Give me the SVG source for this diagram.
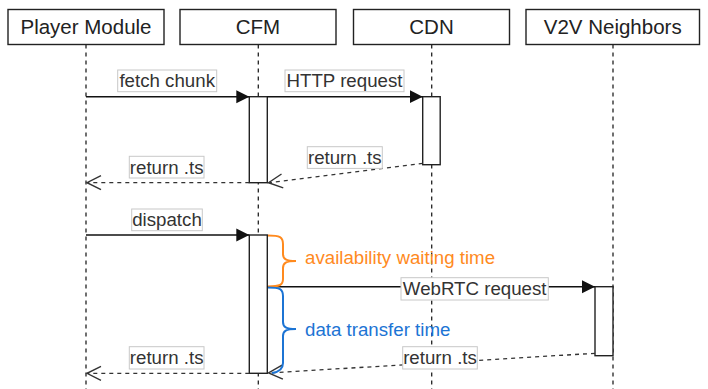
<svg xmlns="http://www.w3.org/2000/svg" width="708" height="389" viewBox="0 0 708 389">
<style>
.hdr{fill:#fff;stroke:#222;stroke-width:1.4}
.hdrt{font-family:"Liberation Sans",Arial,sans-serif;font-size:20.5px;fill:#222;text-anchor:middle}
.life{stroke:#222;stroke-width:1.3;stroke-dasharray:4,4;fill:none}
.act{fill:#fff;stroke:#222;stroke-width:1.4}
.msg{stroke:#111;stroke-width:1.4;fill:none}
.ret{stroke:#333;stroke-width:1.3;stroke-dasharray:4,4;fill:none}
.lblb{fill:#fff;stroke:#c8c8c8;stroke-width:1}
.lbl{font-family:"Liberation Sans",Arial,sans-serif;font-size:18.7px;fill:#333;text-anchor:middle}
.note{font-family:"Liberation Sans",Arial,sans-serif;font-size:18.7px}
</style>
<defs>
<marker id="filled" markerUnits="userSpaceOnUse" markerWidth="14" markerHeight="14" viewBox="0 0 14 14" refX="13" refY="7" orient="auto">
<path d="M0,0.5 L13,7 L0,13.5 Z" fill="#111"/>
</marker>
<marker id="open" markerUnits="userSpaceOnUse" markerWidth="18" markerHeight="18" viewBox="0 0 18 18" refX="16" refY="9" orient="auto">
<path d="M2,2 L16,9 L2,16" fill="none" stroke="#333" stroke-width="1.4"/>
</marker>
</defs>

<g id="player-module">
<rect class="hdr" x="8" y="9.5" width="156" height="35"/>
<text class="hdrt" x="86" y="34">Player Module</text>
<line class="life" x1="86" y1="44.5" x2="86" y2="389"/>
</g>
<g id="cfm">
<rect class="hdr" x="180" y="9.5" width="156" height="35"/>
<text class="hdrt" x="258" y="34">CFM</text>
<line class="life" x1="258.3" y1="44.5" x2="258.3" y2="389"/>
</g>
<g id="cdn">
<rect class="hdr" x="353.5" y="9.5" width="156" height="35"/>
<text class="hdrt" x="431.5" y="34">CDN</text>
<line class="life" x1="431.7" y1="44.5" x2="431.7" y2="389"/>
</g>
<g id="v2v-neighbors">
<rect class="hdr" x="526" y="9.5" width="173.5" height="35"/>
<text class="hdrt" x="612.7" y="34">V2V Neighbors</text>
<line class="life" x1="613" y1="44.5" x2="613" y2="389"/>
</g>

<g id="activations">
<rect class="act" x="249.3" y="96.7" width="18" height="86"/>
<rect class="act" x="422.7" y="96.7" width="17.5" height="68"/>
<rect class="act" x="249.3" y="235" width="18" height="138.3"/>
<rect class="act" x="595" y="286.7" width="18" height="69"/>
</g>

<g id="connectors">
<line class="msg" x1="86" y1="96.7" x2="249.3" y2="96.7" marker-end="url(#filled)"/>
<line class="msg" x1="267.3" y1="96.7" x2="422.7" y2="96.7" marker-end="url(#filled)"/>
<line class="ret" x1="422.7" y1="163.3" x2="268.5" y2="182.7" marker-end="url(#open)"/>
<line class="ret" x1="249.3" y1="182.7" x2="87" y2="182.7" marker-end="url(#open)"/>
<line class="msg" x1="86" y1="235" x2="249.3" y2="235" marker-end="url(#filled)"/>
<line class="msg" x1="267.3" y1="286.7" x2="595" y2="286.7" marker-end="url(#filled)"/>
<line class="ret" x1="595" y1="353.3" x2="268.5" y2="373" marker-end="url(#open)"/>
<line class="ret" x1="249.3" y1="373.3" x2="87" y2="373.3" marker-end="url(#open)"/>
</g>

<g id="labels">
<rect class="lblb" x="117.7" y="70" width="99" height="21.7"/>
<text class="lbl" x="167.2" y="87.3">fetch chunk</text>
<rect class="lblb" x="285" y="70" width="119" height="21.7"/>
<text class="lbl" x="344.5" y="87.3">HTTP request</text>
<rect class="lblb" x="307.3" y="146.7" width="75" height="21.7"/>
<text class="lbl" x="344.8" y="164">return .ts</text>
<rect class="lblb" x="129.3" y="156.3" width="74.7" height="21.7"/>
<text class="lbl" x="166.7" y="173.6">return .ts</text>
<rect class="lblb" x="131.7" y="209" width="70.6" height="21.7"/>
<text class="lbl" x="167" y="226.3">dispatch</text>
<rect class="lblb" x="401" y="277.7" width="147.3" height="22.3"/>
<text class="lbl" x="474.7" y="295.3">WebRTC request</text>
<rect class="lblb" x="402.7" y="346.7" width="74.6" height="22.3"/>
<text class="lbl" x="440" y="364.3">return .ts</text>
<rect class="lblb" x="129.3" y="346.7" width="74.7" height="22.3"/>
<text class="lbl" x="166.7" y="364.3">return .ts</text>
</g>

<g id="availability-brace">
<path d="M268,235.5 C280,235.5 283,237 283,244 L283,254 C283,259 286,261 296,261 C286,261 283,263 283,268 L283,279 C283,285 280,286.5 268,286.5" fill="none" stroke="#FF8A1E" stroke-width="2"/>
<text class="note" x="305" y="263.5" fill="#FF8A1E">availability waiting time</text>
</g>
<g id="transfer-brace">
<path d="M268,287.5 C280,287.5 283,289 283,296 L283,322 C283,327 286,329 296,329 C286,329 283,331 283,336 L283,363 C283,369 279,372 272,373" fill="none" stroke="#1C74D4" stroke-width="2"/>
<text class="note" x="305" y="335.5" fill="#1C74D4">data transfer time</text>
</g>
</svg>
